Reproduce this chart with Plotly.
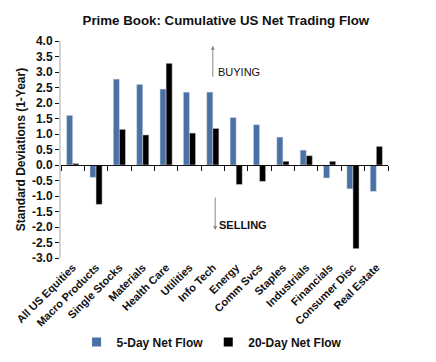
import plotly.graph_objects as go

categories = ["All US Equities", "Macro Products", "Single Stocks", "Materials", "Health Care",
              "Utilities", "Info Tech", "Energy", "Comm Svcs", "Staples", "Industrials",
              "Financials", "Consumer Disc", "Real Estate"]
flow_5d = [1.6, -0.4, 2.77, 2.6, 2.45, 2.35, 2.35, 1.53, 1.3, 0.9, 0.48, -0.42, -0.77, -0.85]
flow_20d = [0.05, -1.27, 1.15, 0.97, 3.28, 1.03, 1.18, -0.63, -0.53, 0.12, 0.3, 0.12, -2.7, 0.6]
ytick_vals = [4.0, 3.5, 3.0, 2.5, 2.0, 1.5, 1.0, 0.5, 0.0, -0.5, -1.0, -1.5, -2.0, -2.5, -3.0]

FONT = "Liberation Sans, Arial, sans-serif"
BLUE = "#4a71a6"
INK = "#111111"

fig = go.Figure()
fig.add_trace(go.Bar(x=categories, y=flow_5d, name="5-Day Net Flow", marker_color=BLUE,
                     marker_line_width=0.5, marker_line_color="#dddddd", showlegend=False))
fig.add_trace(go.Bar(x=categories, y=flow_20d, name="20-Day Net Flow", marker_color="#000000",
                     marker_line_width=0.5, marker_line_color="#dddddd", showlegend=False))
# legend entries (square swatches)
fig.add_trace(go.Scatter(x=[categories[0]], y=[None], mode="markers", name="<b>5-Day Net Flow</b>",
                         marker=dict(symbol="square", size=9, color=BLUE), hoverinfo="skip"))
fig.add_trace(go.Scatter(x=[categories[0]], y=[None], mode="markers", name="<b>20-Day Net Flow</b>",
                         marker=dict(symbol="square", size=9, color="#000000"), hoverinfo="skip"))
# dummy trace for the zero-line axis with boundary ticks
fig.add_trace(go.Scatter(x=categories, y=[None] * len(categories), xaxis="x2", yaxis="y",
                         showlegend=False, hoverinfo="skip", mode="markers"))

ymin, ymax = -3.0, 4.0
zero_pos = (0 - ymin) / (ymax - ymin)

# page body has an 8px default margin, so the figure is 8px smaller than the window
fig.update_layout(
    width=428, height=354,
    margin=dict(l=53, r=48, t=33, b=104, autoexpand=False),
    paper_bgcolor="white", plot_bgcolor="white",
    barmode="group", bargap=0.48, bargroupgap=0.0,
    title=dict(text="<b>Prime Book: Cumulative US Net Trading Flow</b>",
               x=0.509, xanchor="center", y=0.966, yanchor="middle",
               font=dict(family=FONT, size=13.3, color=INK)),
    font=dict(family=FONT, color=INK),
    xaxis=dict(categoryorder="array", categoryarray=categories, range=[-0.5, 13.5],
               tickmode="array", tickvals=categories,
               ticktext=["<b>%s</b>" % c for c in categories],
               showline=False, ticks="", tickangle=-45, showgrid=False, automargin=False,
               tickfont=dict(family=FONT, size=11, color=INK)),
    xaxis2=dict(categoryorder="array", categoryarray=categories, range=[-0.5, 13.5],
                overlaying="x", anchor="free", position=zero_pos, side="bottom",
                showline=True, linecolor=INK, linewidth=1, automargin=False,
                ticks="outside", ticklen=5, tickcolor=INK, tickwidth=1,
                tickson="boundaries", showticklabels=False, showgrid=False),
    yaxis=dict(range=[ymin, ymax], tickmode="array", tickvals=ytick_vals,
               ticktext=["<b>%.1f</b>" % v for v in ytick_vals],
               showgrid=False, zeroline=False, automargin=False,
               showline=True, linecolor="#d3d3d3", linewidth=2,
               ticks="outside", ticklen=4, tickcolor=INK, tickwidth=1,
               tickfont=dict(family=FONT, size=12, color=INK),
               title=dict(text="<b>Standard Deviations (1-Year)</b>",
                          font=dict(family=FONT, size=12, color=INK), standoff=4)),
    legend=dict(orientation="h", x=0.462, xanchor="center", y=-0.387, yanchor="middle",
                font=dict(family=FONT, size=12, color=INK),
                itemwidth=30, traceorder="normal", tracegroupgap=0),
    showlegend=True,
)

# Buying / Selling annotations
fig.add_annotation(x=6.0, y=3.85, ax=6.0, ay=2.8, xref="x", yref="y", axref="x", ayref="y",
                   showarrow=True, arrowhead=2, arrowsize=0.8, arrowwidth=1, arrowcolor="#888888",
                   text="")
fig.add_annotation(x=6.15, y=3.0, xref="x", yref="y", text="BUYING", showarrow=False,
                   xanchor="left", font=dict(family=FONT, size=11, color=INK))
fig.add_annotation(x=6.1, y=-2.1, ax=6.1, ay=-1.0, xref="x", yref="y", axref="x", ayref="y",
                   showarrow=True, arrowhead=2, arrowsize=0.8, arrowwidth=1, arrowcolor="#888888",
                   text="")
fig.add_annotation(x=6.2, y=-1.95, xref="x", yref="y", text="<b>SELLING</b>", showarrow=False,
                   xanchor="left", font=dict(family=FONT, size=11, color=INK))

fig.write_html("out.html")
